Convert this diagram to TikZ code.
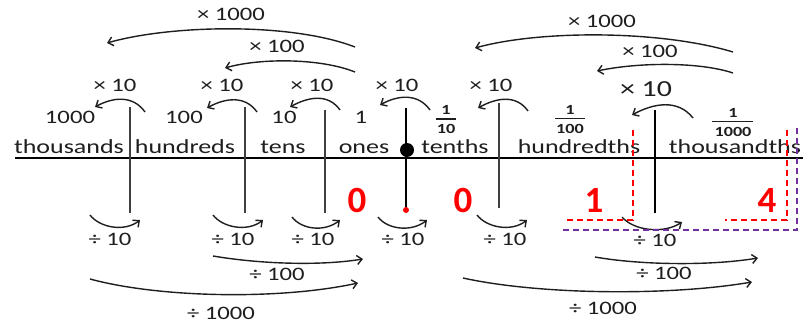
\documentclass[tikz,border=0pt]{standalone}
\usepackage{fontspec}
\setmainfont{Carlito}[FakeStretch=1.3]
\newfontfamily\plaincarlito{Carlito}
\usetikzlibrary{arrows.meta}
\definecolor{ink}{HTML}{1E1E1E}
\definecolor{redd}{HTML}{FF0000}
\definecolor{purp}{HTML}{7030A0}
\tikzset{
 lbl/.style={anchor=base, inner sep=0pt, text=ink, font=\fontsize{19}{19}\selectfont},
 place/.style={anchor=base, inner sep=0pt, text=ink, font=\fontsize{20}{20}\selectfont},
 fracnum/.style={inner sep=0pt, text=ink, font=\fontsize{14}{14}\selectfont\bfseries},
 fracbar/.style={draw=ink, line width=1.1pt},
 digit/.style={anchor=base, inner sep=0pt, text=redd, font=\plaincarlito\fontsize{37}{37}\selectfont\bfseries},
 arc/.style={draw=ink, line width=1.4pt, -{Straight Barb[length=5pt,width=9pt]}},
 post/.style={draw=ink!85, line width=1.7pt},
 mainpost/.style={draw=black, line width=2pt},
 rdash/.style={draw=redd, line width=1.4pt, dash pattern=on 6pt off 4pt},
 pdash/.style={draw=purp, line width=1.4pt, dash pattern=on 6pt off 4pt},
}
\begin{document}
\begin{tikzpicture}[x=1pt,y=-1pt]
\path[use as bounding box] (0,0) rectangle (803,323);
% axis
\coordinate (axL) at (15,158);
\coordinate (axR) at (803,158);
\draw[line width=1.4pt, black] (axL) -- (axR);
% posts
\coordinate (p1t) at (130,107); \coordinate (p1b) at (130,213);
\coordinate (p2t) at (245,107); \coordinate (p2b) at (245,213);
\coordinate (p3t) at (325,110); \coordinate (p3b) at (325,213);
\coordinate (p4t) at (406,108); \coordinate (p4b) at (406,210);
\coordinate (p5t) at (499,103); \coordinate (p5b) at (499,208);
\coordinate (p6t) at (655,110); \coordinate (p6b) at (655,213);
\draw[post] (p1t) -- (p1b);
\draw[post] (p2t) -- (p2b);
\draw[post] (p3t) -- (p3b);
\draw[mainpost] (p4t) -- (p4b);
\draw[post] (p5t) -- (p5b);
\draw[mainpost] (p6t) -- (p6b);
\node[circle, fill=black, minimum size=14pt, inner sep=0pt] (point) at (407,150) {};
\node[circle, fill=redd, minimum size=6pt, inner sep=0pt] (rdot) at (406,210) {};
% place names
\node[place] (nTh) at (69,154) {thousands};
\node[place] (nH) at (185,154) {hundreds};
\node[place] (nT) at (283,154) {tens};
\node[place] (nO) at (364,154) {ones};
\node[place] (nTe) at (455,154) {tenths};
\node[place] (nHu) at (579,154) {hundredths};
\node[place] (nThs) at (735,154) {thousandths};
% values
\node[lbl] (v1000) at (70,124) {1000};
\node[lbl] (v100) at (184,124) {100};
\node[lbl] (v10) at (284,124) {10};
\node[lbl] (v1) at (361,124) {1};
% fractions
\node[fracnum] (f10n) at (446,109.5) {1};
\node[fracnum] (f10d) at (446,128.5) {10};
\coordinate (f10l) at (436,119); \coordinate (f10r) at (456,119);
\draw[fracbar] (f10l) -- (f10r);
\node[fracnum] (f100n) at (570,110) {1};
\node[fracnum] (f100d) at (570,128.5) {100};
\coordinate (f100l) at (555,118.5); \coordinate (f100r) at (585,118.5);
\draw[fracbar] (f100l) -- (f100r);
\node[fracnum] (f1000n) at (733,113) {1};
\node[fracnum] (f1000d) at (733,132) {1000};
\coordinate (f1000l) at (712,121.5); \coordinate (f1000r) at (753,121.5);
\draw[fracbar] (f1000l) -- (f1000r);
% x10 labels
\node[lbl] (x1) at (115,92) {× 10};
\node[lbl] (x2) at (222,92) {× 10};
\node[lbl] (x3) at (312,92) {× 10};
\node[lbl] (x4) at (397,92) {× 10};
\node[lbl] (x5) at (491,92) {× 10};
\node[lbl, font=\fontsize{23}{23}\selectfont] (x6) at (646,97) {× 10};
\node[lbl] (x100a) at (277,53) {× 100};
\node[lbl] (x1000a) at (231,21) {× 1000};
\node[lbl] (x100b) at (650,58) {× 100};
\node[lbl] (x1000b) at (602,28) {× 1000};
% x10 arcs
\coordinate (m1s) at (145,112); \coordinate (m1e) at (95,107);
\coordinate (m2s) at (257,112); \coordinate (m2e) at (207,108);
\coordinate (m3s) at (340,110); \coordinate (m3e) at (290,107);
\coordinate (m4s) at (430,110); \coordinate (m4e) at (380,105);
\coordinate (m5s) at (528,111); \coordinate (m5e) at (478,108);
\coordinate (m6s) at (693,118); \coordinate (m6e) at (632,115);
\draw[arc] (m1s) .. controls +(-12,-17) and +(18,-10) .. (m1e);
\draw[arc] (m2s) .. controls +(-12,-17) and +(18,-10) .. (m2e);
\draw[arc] (m3s) .. controls +(-12,-17) and +(18,-10) .. (m3e);
\draw[arc] (m4s) .. controls +(-12,-17) and +(18,-10) .. (m4e);
\draw[arc] (m5s) .. controls +(-12,-17) and +(18,-10) .. (m5e);
\draw[arc] (m6s) .. controls +(-15,-19) and +(22,-12) .. (m6e);
% x100 / x1000 arcs
\coordinate (h1s) at (355,72); \coordinate (h1e) at (225,68);
\coordinate (k1s) at (355,47); \coordinate (k1e) at (107,43);
\coordinate (h2s) at (733,73); \coordinate (h2e) at (597,71);
\coordinate (k2s) at (733,52); \coordinate (k2e) at (475,48);
\draw[arc] (h1s) .. controls (320,58) and (260,58) .. (h1e);
\draw[arc] (k1s) .. controls (290,22) and (170,25) .. (k1e);
\draw[arc] (h2s) .. controls (700,62) and (640,62) .. (h2e);
\draw[arc] (k2s) .. controls (660,30) and (540,30) .. (k2e);
% division labels
\node[lbl] (d1) at (110,245) {÷ 10};
\node[lbl] (d2) at (233,245) {÷ 10};
\node[lbl] (d3) at (313,245) {÷ 10};
\node[lbl] (d4) at (403,245) {÷ 10};
\node[lbl] (d5) at (505,245) {÷ 10};
\node[lbl] (d6) at (655,247) {÷ 10};
\node[lbl] (d100a) at (277,280) {÷ 100};
\node[lbl] (d100b) at (664,279) {÷ 100};
\node[lbl] (d1000a) at (221,319) {÷ 1000};
\node[lbl] (d1000b) at (603,314) {÷ 1000};
% /10 arcs
\coordinate (q1s) at (90,215); \coordinate (q1e) at (140,220);
\coordinate (q2s) at (213,215); \coordinate (q2e) at (263,220);
\coordinate (q3s) at (292,217); \coordinate (q3e) at (340,220);
\coordinate (q4s) at (378,217); \coordinate (q4e) at (427,220);
\coordinate (q5s) at (477,215); \coordinate (q5e) at (527,220);
\coordinate (q6s) at (622,217); \coordinate (q6e) at (682,222);
\draw[arc] (q1s) .. controls +(10,13) and +(-15,12) .. (q1e);
\draw[arc] (q2s) .. controls +(10,13) and +(-15,12) .. (q2e);
\draw[arc] (q3s) .. controls +(10,13) and +(-15,12) .. (q3e);
\draw[arc] (q4s) .. controls +(10,13) and +(-15,12) .. (q4e);
\draw[arc] (q5s) .. controls +(10,13) and +(-15,12) .. (q5e);
\draw[arc] (q6s) .. controls +(12,14) and +(-18,12) .. (q6e);
% /100 and /1000 arcs
\coordinate (g1s) at (213,256); \coordinate (g1e) at (363,259);
\coordinate (g2s) at (595,257); \coordinate (g2e) at (758,258);
\coordinate (t1s) at (90,279); \coordinate (t1e) at (358,283);
\coordinate (t2s) at (463,278); \coordinate (t2e) at (752,282);
\draw[arc] (g1s) .. controls (260,264) and (320,266) .. (g1e);
\draw[arc] (g2s) .. controls (640,265) and (710,266) .. (g2e);
\draw[arc] (t1s) .. controls (160,298) and (280,300) .. (t1e);
\draw[arc] (t2s) .. controls (540,295) and (670,296) .. (t2e);
% red digits
\node[digit] (r0a) at (357,213) {0};
\node[digit] (r0b) at (463,213) {0};
\node[digit] (r1) at (594,213) {1};
\node[digit] (r4) at (767,213) {4};
% dashed frames
\coordinate (ra1) at (633,130); \coordinate (ra2) at (633,220); \coordinate (ra3) at (565,220);
\coordinate (rb1) at (787,130); \coordinate (rb2) at (787,220); \coordinate (rb3) at (725,220);
\coordinate (pa1) at (797,128); \coordinate (pa2) at (797,230); \coordinate (pa3) at (563,230);
\draw[rdash] (ra1) -- (ra2) -- (ra3);
\draw[rdash] (rb1) -- (rb2) -- (rb3);
\draw[pdash] (pa1) -- (pa2) -- (pa3);
\end{tikzpicture}
\end{document}
